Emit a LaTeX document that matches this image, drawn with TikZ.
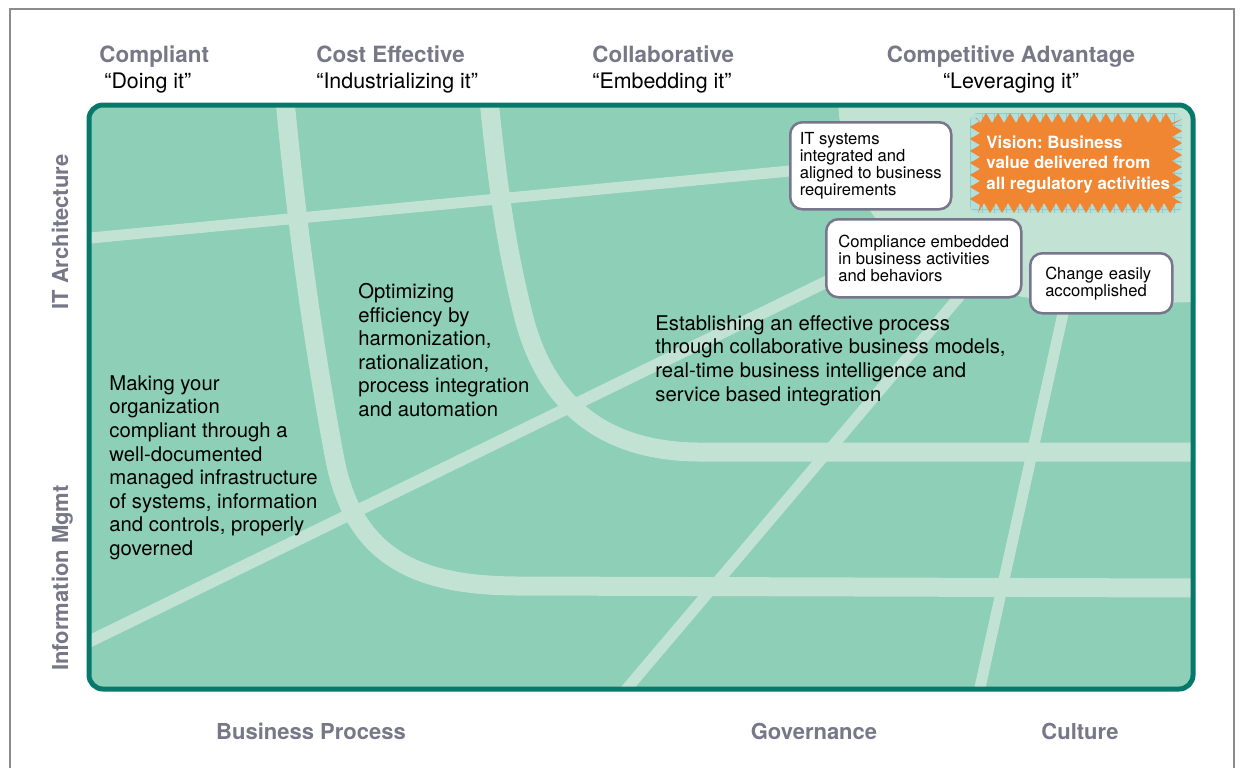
\documentclass[tikz,border=0pt]{standalone}
\usepackage{fontspec}
\setmainfont{TeX Gyre Heros}
\frenchspacing
\usetikzlibrary{decorations.pathmorphing}
\definecolor{fieldgreen}{HTML}{8ECFB7}
\definecolor{roadgreen}{HTML}{C2E3D3}
\definecolor{edgeteal}{HTML}{06796A}
\definecolor{labelgray}{HTML}{777788}
\definecolor{boxedge}{HTML}{77768C}
\definecolor{visionorange}{HTML}{F08532}
\definecolor{gridcyan}{HTML}{B2DFDA}
\definecolor{gridline}{HTML}{93CBC6}
\definecolor{framegray}{HTML}{8C8C8C}
\begin{document}
\begin{tikzpicture}[x=0.5pt,y=-0.5pt,
  road/.style={draw=roadgreen, line cap=butt},
  stage/.style={font=\fontsize{11.2}{13}\selectfont\bfseries, text=labelgray, inner sep=0pt},
  quote/.style={font=\fontsize{10.7}{13}\selectfont, text=black, inner sep=0pt},
  axislabel/.style={font=\fontsize{11}{13}\selectfont\bfseries, text=labelgray, inner sep=0pt},
  body/.style={font=\fontsize{10.15}{11.8}\selectfont, align=left, inner sep=0pt, anchor=north west},
  goalbox/.style={draw=boxedge, line width=1.25pt, fill=white, rounded corners=6pt, align=left,
    font=\fontsize{8.3}{8.5}\selectfont, inner ysep=0pt, inner xsep=4pt, anchor=north west},
]
\useasboundingbox (0,0) rectangle (1242,768);

% outer frame
\draw[framegray, line width=1pt] (10,768) -- (10,8.5) -- (1234,8.5) -- (1234,768);

% field with roads
\begin{scope}
\clip[rounded corners=7pt] (89,105) rectangle (1193,689);
\fill[fieldgreen] (89,105) rectangle (1193,689);
\fill[roadgreen] (838,100) -- (1200,100) -- (1200,302) -- (1100,304)
  .. controls (950,300) and (845,250) .. (838,100) -- cycle;
\draw[road, line width=5.5pt] (80,239) -- (800,170);
\draw[road, line width=9.5pt] (285,100) .. controls (300,260) and (320,380) .. (335,460)
  .. controls (355,560) and (420,586) .. (520,586) -- (1200,588);
\draw[road, line width=9.5pt] (489,100) .. controls (500,210) and (510,260) .. (522,310)
  .. controls (545,410) and (610,452) .. (700,452) -- (1200,452);
\draw[road, line width=6pt] (80,646) -- (830,280);
\draw[road, line width=5.5pt] (624,692) -- (969,285);
\draw[road, line width=5.5pt] (979,692) -- (1066,300);
\end{scope}
\draw[edgeteal, line width=2.5pt, rounded corners=7pt] (89,105) rectangle (1193,689);

% vision starburst
\begin{scope}
\clip[rounded corners=4pt] (970,113) rectangle (1182,213);
\fill[gridcyan] (970,113) rectangle (1182,213);
\foreach \gx in {970,982,...,1182} \draw[gridline, line width=0.3pt] (\gx,113) -- (\gx,213);
\foreach \gy in {113,125,...,213} \draw[gridline, line width=0.3pt] (970,\gy) -- (1182,\gy);
\end{scope}
\fill[visionorange, decorate, decoration={zigzag, segment length=6pt, amplitude=2.5pt}]
  (975,118) rectangle (1177,208);
\node[anchor=north west, font=\fontsize{8.45}{10.25}\selectfont\bfseries, text=white, align=left, inner sep=0pt]
  (vision) at (986,135) {Vision: Business\\value delivered from\\all regulatory activities};

% goal boxes
\node[goalbox, minimum width=80.5pt, minimum height=43.5pt] (itsys) at (789,121)
  {IT systems\\integrated and\\aligned to business\\requirements};
\node[goalbox, minimum width=97.5pt, minimum height=39pt] (embedded) at (825,218)
  {Compliance embedded\\in business activities\\and behaviors};
\node[goalbox, minimum width=71pt, minimum height=30pt, inner xsep=7.5pt, text width=56pt] (change) at (1029,252)
  {Change easily\\accomplished};

% body texts
\node[body] (making) at (109,375) {Making your\\organization\\compliant through a\\well-documented\\managed infrastructure\\of systems, information\\and controls, properly\\governed};
\node[body] (optimizing) at (358,283) {Optimizing\\efficiency by\\harmonization,\\rationalization,\\process integration\\and automation};
\node[body] (establishing) at (655,315) {Establishing an effective process\\through collaborative business models,\\real-time business intelligence and\\service based integration};

% stage headings
\node[stage, anchor=north west] (compliant) at (99,45) {Compliant};
\node[quote, anchor=north west] (doing) at (104,72) {“Doing it”};
\node[stage, anchor=north west] (costeff) at (316,45) {Cost Effective};
\node[quote, anchor=north west] (industrial) at (316,72) {“Industrializing it”};
\node[stage, anchor=north west] (collab) at (592,45) {Collaborative};
\node[quote, anchor=north west] (embedding) at (592,72) {“Embedding it”};
\node[stage, anchor=north] (compet) at (1011,45) {Competitive Advantage};
\node[quote, anchor=north] (leveraging) at (1011,72) {“Leveraging it”};

% axis labels
\node[axislabel, rotate=90, anchor=base] (itarch) at (68,232) {IT Architecture};
\node[axislabel, rotate=90, anchor=base] (infomgmt) at (68,578) {Information Mgmt};
\node[axislabel, anchor=north] (bizproc) at (311,723) {Business Process};
\node[axislabel, anchor=north] (governance) at (814,723) {Governance};
\node[axislabel, anchor=north] (culture) at (1080,723) {Culture};
\end{tikzpicture}
\end{document}
